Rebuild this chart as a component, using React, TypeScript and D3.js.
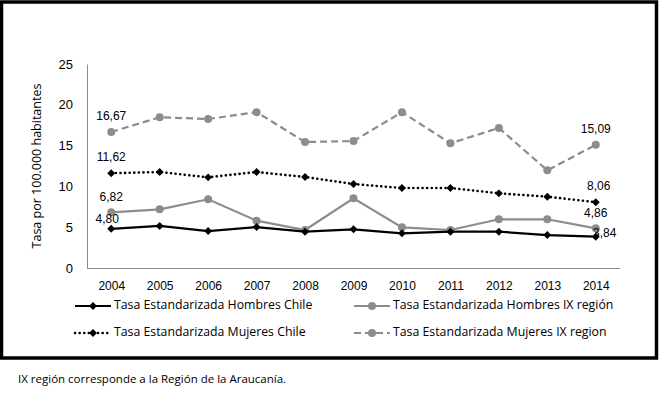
import { useEffect, useRef } from 'react';
import * as d3 from 'd3';

const years = ['2004', '2005', '2006', '2007', '2008', '2009', '2010', '2011', '2012', '2013', '2014'];
const hombresChile = [4.8, 5.15, 4.53, 5.02, 4.45, 4.74, 4.25, 4.45, 4.45, 4.04, 3.84];
const hombresIX = [6.82, 7.19, 8.42, 5.8, 4.66, 8.54, 4.98, 4.66, 5.97, 5.97, 4.86];
const mujeresChile = [11.62, 11.76, 11.11, 11.76, 11.15, 10.29, 9.8, 9.8, 9.15, 8.74, 8.06];
const mujeresIX = [16.67, 18.47, 18.26, 19.1, 15.44, 15.56, 19.1, 15.28, 17.16, 11.97, 15.09];
const yTicks = [0, 5, 10, 15, 20, 25];

const seriesNames = [
  'Tasa Estandarizada Hombres Chile',
  'Tasa Estandarizada Hombres IX región',
  'Tasa Estandarizada Mujeres Chile',
  'Tasa Estandarizada Mujeres IX region',
];

const GRAY = '#8c8c8c';
const FONT = 'Liberation Sans, Arial, sans-serif';
const FONT2 = 'Open Sans, sans-serif';

type Style = { color: string; dash: string | null; cap: string; marker: 'diamond' | 'circle' };

const styles: Style[] = [
  { color: '#000', dash: null, cap: 'butt', marker: 'diamond' },
  { color: GRAY, dash: null, cap: 'butt', marker: 'circle' },
  { color: '#000', dash: '0.1,4.5', cap: 'round', marker: 'diamond' },
  { color: GRAY, dash: '7,4', cap: 'butt', marker: 'circle' },
];

const series = [hombresChile, hombresIX, mujeresChile, mujeresIX];

export default function App() {
  const svgRef = useRef<SVGSVGElement>(null);
  const width = 661,
    height = 394,
    marginLeft = 87,
    plotRight = 620,
    plotTop = 64,
    plotBottom = 268;

  useEffect(() => {
    const svg = d3.select(svgRef.current);
    svg.selectAll('*').remove();

    const x = d3.scalePoint<string>().domain(years).range([marginLeft, plotRight]).padding(0.5);
    const y = d3.scaleLinear().domain([0, 25]).range([plotBottom, plotTop]);

    svg
      .append('rect')
      .attr('x', 1.5)
      .attr('y', 2)
      .attr('width', 655)
      .attr('height', 356)
      .attr('fill', '#fff')
      .attr('stroke', '#000')
      .attr('stroke-width', 3.5);

    // axes
    const gy = svg.append('g').attr('transform', `translate(${marginLeft},0)`);
    gy.call(d3.axisLeft(y).tickValues(yTicks).tickSize(0).tickPadding(14));
    gy.select('.domain').attr('stroke', GRAY).attr('stroke-width', 1);
    gy.selectAll('text').attr('font-size', 13).attr('font-family', FONT).attr('fill', '#000');

    const gx = svg.append('g').attr('transform', `translate(0,${plotBottom})`);
    gx.call(d3.axisBottom(x).tickSize(0).tickPadding(13));
    gx.select('.domain').attr('stroke', GRAY).attr('stroke-width', 1).attr('d', `M${marginLeft},0.5H${plotRight}`);
    gx.selectAll('text').attr('font-size', 12).attr('font-family', FONT).attr('fill', '#000');

    svg
      .append('text')
      .attr('transform', `translate(41,${(plotTop + plotBottom) / 2}) rotate(-90)`)
      .attr('text-anchor', 'middle')
      .attr('font-size', 12.5)
      .attr('font-family', FONT2)
      .text('Tasa por 100.000 habitantes');

    const line = d3
      .line<number>()
      .x((_, i) => x(years[i]) as number)
      .y((d) => y(d));

    const diamond = d3.symbol().type(d3.symbolDiamond2).size(40);

    const drawMarker = (g: any, s: Style, cx: number, cy: number) => {
      if (s.marker === 'circle') {
        g.append('circle').attr('cx', cx).attr('cy', cy).attr('r', 4).attr('fill', s.color);
      } else {
        g.append('path').attr('d', diamond()).attr('transform', `translate(${cx},${cy})`).attr('fill', s.color);
      }
    };

    // women first, men drawn on top
    [3, 2, 1, 0].forEach((k) => {
      const s = styles[k];
      const g = svg.append('g');
      g.append('path')
        .attr('d', line(series[k]))
        .attr('fill', 'none')
        .attr('stroke', s.color)
        .attr('stroke-width', s.dash === '0.1,4.5' ? 2.6 : 2.2)
        .attr('stroke-linecap', s.cap)
        .attr('stroke-dasharray', s.dash);
      series[k].forEach((v, i) => drawMarker(g, s, x(years[i]) as number, y(v)));
    });

    // labels on first and last point
    const fmt = (v: number) => v.toFixed(2).replace('.', ',');
    const labels = [
      { k: 3, i: 0, dx: 0, dy: -15 },
      { k: 2, i: 0, dx: 0, dy: -15 },
      { k: 1, i: 0, dx: 0, dy: -15 },
      { k: 0, i: 0, dx: -4, dy: -9 },
      { k: 3, i: 10, dx: 0, dy: -15 },
      { k: 2, i: 10, dx: 3, dy: -15 },
      { k: 1, i: 10, dx: 0, dy: -15 },
      { k: 0, i: 10, dx: 9, dy: -3 },
    ];
    labels.forEach(({ k, i, dx, dy }) => {
      svg
        .append('text')
        .attr('x', (x(years[i]) as number) + dx)
        .attr('y', y(series[k][i]) + dy)
        .attr('text-anchor', 'middle')
        .attr('dominant-baseline', 'middle')
        .attr('font-size', 12)
        .attr('font-family', FONT)
        .text(fmt(series[k][i]));
    });

    // legend
    const legendPos = [
      { x: 75, y: 306 },
      { x: 354, y: 306 },
      { x: 75, y: 333 },
      { x: 354, y: 333 },
    ];
    seriesNames.forEach((name, k) => {
      const s = styles[k];
      const p = legendPos[k];
      const g = svg.append('g');
      g.append('line')
        .attr('x1', p.x)
        .attr('x2', p.x + 36)
        .attr('y1', p.y)
        .attr('y2', p.y)
        .attr('stroke', s.color)
        .attr('stroke-width', s.dash === '0.1,4.5' ? 2.6 : 2.2)
        .attr('stroke-linecap', s.cap)
        .attr('stroke-dasharray', s.dash);
      drawMarker(g, s, p.x + 18, p.y);
      g.append('text')
        .attr('x', p.x + 39)
        .attr('y', p.y)
        .attr('dominant-baseline', 'middle')
        .attr('font-size', 12.3)
        .attr('font-family', FONT2)
        .text(name);
    });

    svg
      .append('text')
      .attr('x', 18)
      .attr('y', 380)
      .attr('dominant-baseline', 'middle')
      .attr('font-size', 11.5)
      .attr('font-family', FONT2)
      .text('IX región corresponde a la Región de la Araucanía.');
  }, []);

  return (
    <svg
      ref={svgRef}
      width={width}
      height={height}
      style={{ position: 'absolute', left: 0, top: 0, background: '#fff' }}
    />
  );
}
